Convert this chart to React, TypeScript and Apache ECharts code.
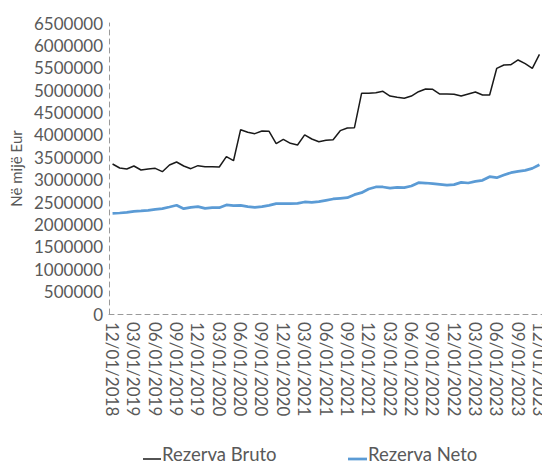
import React, { useEffect, useRef } from "react";
import * as echarts from "echarts";

const categories = [
  "12/01/2018",
  "01/01/2019", "02/01/2019", "03/01/2019", "04/01/2019", "05/01/2019", "06/01/2019",
  "07/01/2019", "08/01/2019", "09/01/2019", "10/01/2019", "11/01/2019", "12/01/2019",
  "01/01/2020", "02/01/2020", "03/01/2020", "04/01/2020", "05/01/2020", "06/01/2020",
  "07/01/2020", "08/01/2020", "09/01/2020", "10/01/2020", "11/01/2020", "12/01/2020",
  "01/01/2021", "02/01/2021", "03/01/2021", "04/01/2021", "05/01/2021", "06/01/2021",
  "07/01/2021", "08/01/2021", "09/01/2021", "10/01/2021", "11/01/2021", "12/01/2021",
  "01/01/2022", "02/01/2022", "03/01/2022", "04/01/2022", "05/01/2022", "06/01/2022",
  "07/01/2022", "08/01/2022", "09/01/2022", "10/01/2022", "11/01/2022", "12/01/2022",
  "01/01/2023", "02/01/2023", "03/01/2023", "04/01/2023", "05/01/2023", "06/01/2023",
  "07/01/2023", "08/01/2023", "09/01/2023", "10/01/2023", "11/01/2023", "12/01/2023",
];

const rezervaBruto = [
  3350000, 3261000, 3239000, 3306000, 3216000, 3239000, 3254000, 3179000, 3328000, 3395000,
  3306000, 3246000, 3313000, 3290000, 3290000, 3283000, 3514000, 3424000, 4117000, 4058000,
  4028000, 4088000, 4080000, 3804000, 3901000, 3812000, 3775000, 4000000, 3909000, 3849000,
  3879000, 3894000, 4095000, 4155000, 4162000, 4929000, 4929000, 4944000, 4974000, 4869000,
  4840000, 4818000, 4869000, 4966000, 5026000, 5019000, 4914000, 4914000, 4907000, 4869000,
  4914000, 4959000, 4892000, 4892000, 5488000, 5562000, 5569000, 5674000, 5592000, 5488000,
  5801000,
];

const rezervaNeto = [
  2249000, 2256000, 2271000, 2293000, 2301000, 2316000, 2338000, 2353000, 2390000, 2430000,
  2353000, 2383000, 2397000, 2361000, 2375000, 2375000, 2435000, 2420000, 2427000, 2397000,
  2383000, 2397000, 2427000, 2464000, 2464000, 2464000, 2472000, 2502000, 2494000, 2509000,
  2539000, 2569000, 2584000, 2598000, 2665000, 2710000, 2792000, 2837000, 2837000, 2814000,
  2830000, 2822000, 2859000, 2933000, 2926000, 2911000, 2896000, 2881000, 2889000, 2941000,
  2926000, 2964000, 2986000, 3067000, 3045000, 3105000, 3156000, 3186000, 3208000, 3253000,
  3335000,
];

const seriesNames = ["Rezerva Bruto", "Rezerva Neto"];
const seriesColors = ["#1a1a1a", "#5b9bd5"];
const yAxisName = "Në mijë Eur";

const FONT = "Lato, 'DejaVu Sans', sans-serif";
const TEXT = "#595959";

export default function App() {
  const ref = useRef<HTMLDivElement>(null);
  useEffect(() => {
    if (!ref.current) return;
    const chart = echarts.init(ref.current, undefined, { renderer: "svg" });
    const legendItems = [
      { x: 143, w: 18, lw: 1.5 },
      { x: 348, w: 19, lw: 2.75 },
    ];
    const graphic: any[] = [];
    legendItems.forEach((it, i) => {
      graphic.push({
        type: "line",
        shape: { x1: it.x, y1: 459, x2: it.x + it.w, y2: 459 },
        style: { stroke: seriesColors[i], lineWidth: it.lw },
        silent: true,
      });
      graphic.push({
        type: "text",
        x: it.x + it.w + 1,
        y: 453.5,
        style: {
          text: seriesNames[i],
          fill: TEXT,
          font: `18.5px ${FONT}`,
          verticalAlign: "middle",
          align: "left",
        },
        silent: true,
      });
    });
    chart.setOption({
      animation: false,
      textStyle: { fontFamily: FONT },
      grid: { left: 109, right: 7, top: 23, bottom: 150, containLabel: false },
      graphic,
      xAxis: {
        type: "category",
        data: categories,
        boundaryGap: true,
        axisLine: { show: true, lineStyle: { color: "#9a9a9a", type: [5, 4], width: 1 } },
        axisTick: { show: false },
        axisLabel: {
          interval: 2,
          rotate: -90,
          margin: 8,
          color: TEXT,
          fontSize: 17,
          fontFamily: FONT,
        },
      },
      yAxis: {
        type: "value",
        min: 0,
        max: 6500000,
        interval: 500000,
        name: yAxisName,
        nameLocation: "middle",
        nameGap: 81,
        nameTextStyle: { color: TEXT, fontSize: 15, fontFamily: FONT },
        axisLine: { show: true, lineStyle: { color: "#9a9a9a", type: [5, 4], width: 1 } },
        axisTick: { show: false },
        splitLine: { show: false },
        axisLabel: {
          color: TEXT,
          fontSize: 17,
          margin: 6,
          fontFamily: FONT,
          formatter: (v: number) => String(v),
        },
      },
      series: [
        {
          name: seriesNames[0],
          type: "line",
          data: rezervaBruto,
          symbol: "none",
          lineStyle: { color: seriesColors[0], width: 1.5 },
          itemStyle: { color: seriesColors[0] },
        },
        {
          name: seriesNames[1],
          type: "line",
          data: rezervaNeto,
          symbol: "none",
          lineStyle: { color: seriesColors[1], width: 2.75 },
          itemStyle: { color: seriesColors[1] },
        },
      ],
    });
    return () => chart.dispose();
  }, []);
  return (
    <div
      ref={ref}
      style={{ width: 550, height: 464, marginTop: -8, marginLeft: -8, marginBottom: 0 }}
    />
  );
}
